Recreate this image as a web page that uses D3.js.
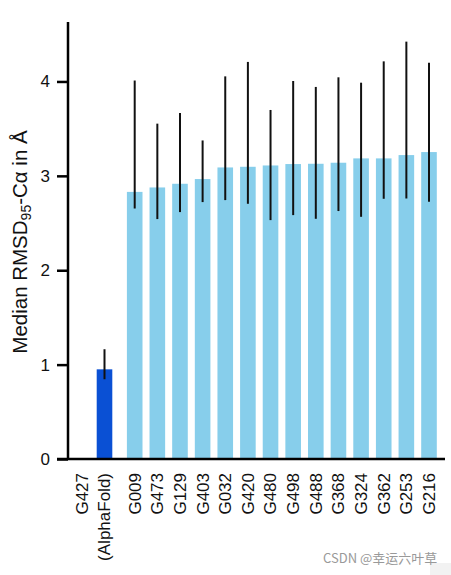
<!DOCTYPE html>
<html><head><meta charset="utf-8">
<script src="https://cdn.jsdelivr.net/npm/d3@7"></script>
<style>body{margin:0;background:#fff;} text{font-family:"Liberation Sans",Arial,Helvetica,sans-serif;}</style>
</head><body>
<svg id="c" width="451" height="575"></svg>
<script>
const categories = ["G427|(AlphaFold)","G009","G473","G129","G403","G032","G420","G480","G498","G488","G368","G324","G362","G253","G216"];
const medians  = [0.95,2.83,2.877,2.916,2.966,3.089,3.096,3.11,3.125,3.128,3.139,3.185,3.185,3.22,3.252];
const errLow   = [0.845,2.654,2.542,2.616,2.722,2.743,2.704,2.531,2.584,2.545,2.627,2.566,2.757,2.76,2.725];
const errHigh  = [1.163,4.01,3.553,3.666,3.375,4.054,4.207,3.698,4.005,3.942,4.044,3.987,4.213,4.422,4.199];
const yTicks = [0,1,2,3,4];

const svg = d3.select("#c");
const gap = 0.334;
const slot = i => i === 0 ? 0 : i + gap;
const x = d3.scaleLinear().domain([0, 14 + gap]).range([104.5, 429]);
const bw = 15.6;
const y = d3.scaleLinear().domain([0, 4.63]).range([459, 22]);

const data = categories.map((c,i)=>({c, i, m: medians[i], lo: errLow[i], hi: errHigh[i]}));

svg.selectAll("rect.bar").data(data).join("rect")
  .attr("x", d => x(slot(d.i)) - bw/2)
  .attr("width", bw)
  .attr("y", d => y(d.m))
  .attr("height", d => y(0) - y(d.m))
  .attr("fill", d => d.i === 0 ? "#0a50d4" : "#87ceeb");

svg.selectAll("line.err").data(data).join("line")
  .attr("x1", d => x(slot(d.i))).attr("x2", d => x(slot(d.i)))
  .attr("y1", d => y(d.lo)).attr("y2", d => y(d.hi))
  .attr("stroke", "#111").attr("stroke-width", 2);

// y axis
const yAxis = svg.append("g").attr("transform","translate(68,0)")
  .call(d3.axisLeft(y).tickValues(yTicks).tickSize(11).tickPadding(7).tickFormat(d3.format("d")));
yAxis.select(".domain").attr("d", `M0,${y(0)+1}V${y(4.63)}`).attr("stroke","#000").attr("stroke-width",2.5);
yAxis.selectAll(".tick line").attr("stroke","#000").attr("stroke-width",2.5);
yAxis.selectAll(".tick text").attr("font-size",17).attr("fill","#111")
  .style("font-family","'Liberation Sans',Arial,sans-serif");

// x axis baseline
svg.append("line").attr("x1",57).attr("x2",445).attr("y1",y(0)).attr("y2",y(0))
  .attr("stroke","#000").attr("stroke-width",2.5);

// x labels
const xl = svg.append("g");
data.forEach(d => {
  const parts = d.c.split("|");
  const cx = x(slot(d.i));
  const t = xl.append("text")
    .attr("transform", `translate(${cx},473) rotate(-90)`)
    .attr("text-anchor","end").attr("font-size",17).attr("fill","#111");
  if (parts.length === 1) {
    t.attr("dy","0.35em").text(parts[0]);
  } else {
    t.append("tspan").attr("x",0).attr("dy","-0.95em").text(parts[0]);
    t.append("tspan").attr("x",0).attr("dy","1.3em").text(parts[1]);
  }
});

// y label
const yl = svg.append("text")
  .attr("transform","translate(27,242) rotate(-90)")
  .attr("text-anchor","middle").attr("font-size",20.5).attr("fill","#111");
yl.append("tspan").text("Median RMSD");
yl.append("tspan").attr("font-size",14).attr("dy",4).text("95");
yl.append("tspan").attr("dy",-4).text("-Cα in Å");

// watermark
svg.append("rect").attr("x",430).attr("y",563).attr("width",21).attr("height",12).attr("fill","#f2f2f2");
svg.append("text").attr("x",323).attr("y",563).attr("font-size",13).attr("fill","#999")
  .style("font-family","'Noto Sans CJK SC','Noto Sans',sans-serif").text("CSDN @幸运六叶草");
</script>
</body></html>
